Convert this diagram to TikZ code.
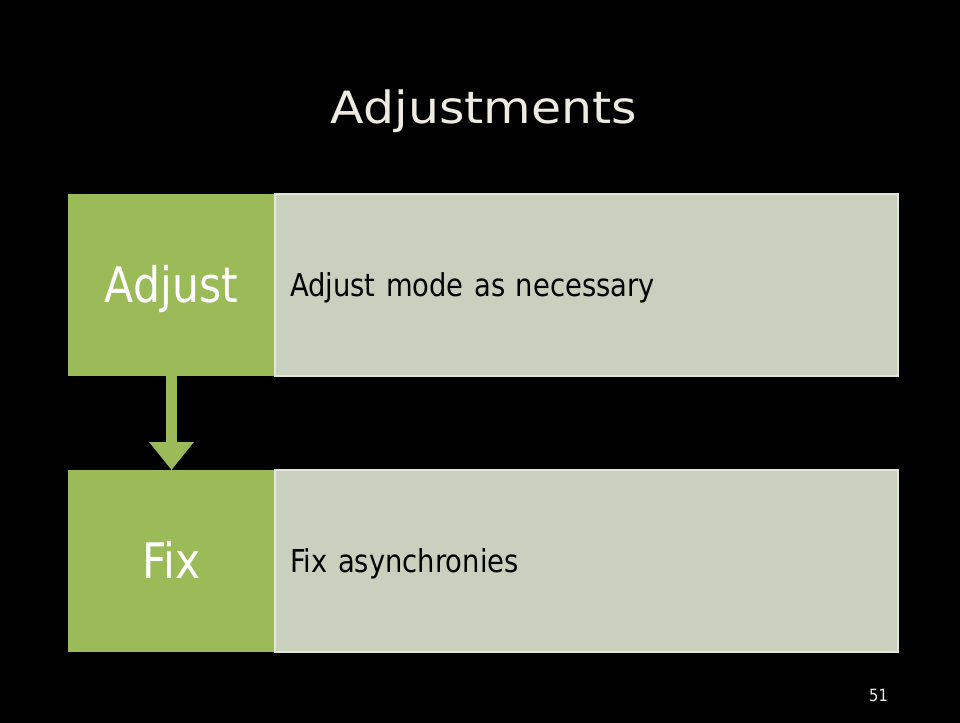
\documentclass[tikz,border=0pt]{standalone}
\usepackage{fontspec}
\setmainfont{DejaVu Sans}
\newfontfamily\titlefont[FakeStretch=1.1]{DejaVu Sans}
\newfontfamily\boxfont[FakeStretch=0.87]{DejaVu Sans}
\usetikzlibrary{positioning}
\usetikzlibrary{arrows.meta}
\definecolor{stepgreen}{HTML}{9BBB59}
\definecolor{descbg}{HTML}{C9D0BE}
\definecolor{descedge}{HTML}{E2E6DA}
\definecolor{titlefg}{HTML}{EEECE1}

\begin{document}
\begin{tikzpicture}[x=0.25mm, y=-0.25mm,
every node/.style = {inner sep=0pt, outer sep=0pt},
stepbox/.style = {fill=stepgreen, text=white,
  minimum width=51.75mm, minimum height=45.5mm,
  text height=25.4pt, text depth=0pt,
  font=\boxfont\fontsize{34.8}{40}\selectfont},
descbox/.style = {fill=descbg, draw=descedge, line width=0.4mm,
  minimum height=45.5mm, text width=148.25mm, inner xsep=3.75mm,
  align=left, text height=16.3pt, text depth=0pt,
  font=\boxfont\fontsize{22.4}{26}\selectfont},
flow/.style = {draw=stepgreen, line width=2.75mm,
  -{Triangle[width=10.75mm, length=7mm]}}
]
\fill[black] (0,0) rectangle (960,723);

\node (title) [text=titlefg, anchor=base,
  font=\titlefont\fontsize{31.6}{36}\selectfont] at (484,124) {Adjustments};

\node (adjust) [stepbox] at (171.5,285) {Adjust};
\node (adjustdesc) [descbox, right=0pt of adjust] {Adjust mode as necessary};
\node (fix) [stepbox, below=23.5mm of adjust] {Fix};
\node (fixdesc) [descbox, right=0pt of fix] {Fix asynchronies};
\draw [flow] (adjust) -- (fix);

\node (pagenum) [text=titlefg, anchor=base,
  font=\boxfont\fontsize{12}{14}\selectfont] at (878.5,701) {51};
\end{tikzpicture}
\end{document}
